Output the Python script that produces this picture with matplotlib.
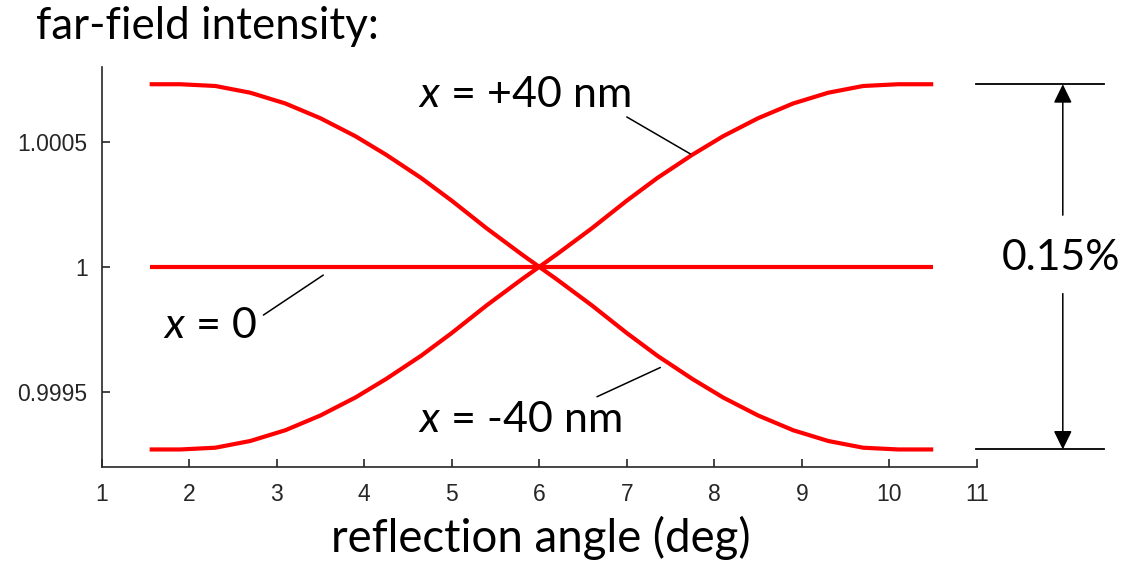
import matplotlib
matplotlib.use("Agg")
import matplotlib.pyplot as plt

plt.rcParams['font.family'] = ['Liberation Sans', 'DejaVu Sans']
plt.rcParams['mathtext.fontset'] = 'custom'
plt.rcParams['mathtext.it'] = 'Lato:italic'
plt.rcParams['mathtext.rm'] = 'Lato'

# reflection angle samples (deg) and normalised far-field intensity
angle = [1.55, 1.9, 2.3, 2.7, 3.1, 3.5, 3.9, 4.25, 4.65, 5.0, 5.4, 5.8, 6.0,
         6.2, 6.6, 7.0, 7.35, 7.75, 8.1, 8.5, 8.9, 9.3, 9.7, 10.1, 10.5]
intensity_minus40 = [1.000731, 1.000731, 1.000724, 1.000697, 1.000654, 1.000595,
                     1.000523, 1.000449, 1.000356, 1.000265, 1.000154, 1.000050,
                     1.000000, 0.999950, 0.999846, 0.999735, 0.999644, 0.999551,
                     0.999477, 0.999405, 0.999346, 0.999303, 0.999276, 0.999269,
                     0.999269]
intensity_plus40 = [0.999269, 0.999269, 0.999276, 0.999303, 0.999346, 0.999405,
                    0.999477, 0.999551, 0.999644, 0.999735, 0.999846, 0.999950,
                    1.000000, 1.000050, 1.000154, 1.000265, 1.000356, 1.000449,
                    1.000523, 1.000595, 1.000654, 1.000697, 1.000724, 1.000731,
                    1.000731]
intensity_zero = [1.0] * len(angle)

x_ticks = [1, 2, 3, 4, 5, 6, 7, 8, 9, 10, 11]
y_ticks = [0.9995, 1.0, 1.0005]
y_tick_labels = ['0.9995', '1', '1.0005']

W, H = 1146, 563
fig = plt.figure(figsize=(W / 100, H / 100), dpi=100)
ax = fig.add_axes([101.5 / W, 1 - 466.7 / H, 875.5 / W, 399.7 / H])

red = '#ff0000'
ax.plot(angle, intensity_minus40, color=red, lw=3, solid_capstyle='butt')
ax.plot(angle, intensity_plus40, color=red, lw=3, solid_capstyle='butt')
ax.plot(angle, intensity_zero, color=red, lw=3, solid_capstyle='butt')

ax.set_xlim(1, 11)
ax.set_ylim(0.9992, 1.0008)
ax.set_xticks(x_ticks)
ax.set_yticks(y_ticks)
ax.set_yticklabels(y_tick_labels)

gray = '#262626'
for side in ['top', 'right']:
    ax.spines[side].set_visible(False)
for side in ['left', 'bottom']:
    ax.spines[side].set_color(gray)
    ax.spines[side].set_linewidth(1.2)
ax.tick_params(direction='in', length=6, width=1.2, color=gray,
               labelcolor=gray, labelsize=16.5)
ax.tick_params(axis='x', pad=12)
ax.tick_params(axis='y', pad=10)

big = 'Lato'
fig.text(36 / W, 1 - 39 / H, 'far-field intensity:', fontsize=31.6,
         family=big, va='baseline', ha='left')
ax.set_xlabel('reflection angle (deg)', fontsize=32.9, family=big)
ax.xaxis.label.set_va('baseline')
ax.xaxis.set_label_coords(0.5018, -0.2127)

# curve labels with leader lines
lbl = dict(fontsize=31, family=big, va='baseline', ha='left')
ax.text(4.62, 1.000640, r'$x$ = +40 nm', **lbl)
ax.text(1.706, 0.999714, r'$x$ = 0', **lbl)
ax.text(4.62, 0.999340, r'$x$ = -40 nm', **lbl)

lead = dict(arrowstyle='-', color='black', lw=1.1, shrinkA=0, shrinkB=0)
ax.annotate('', xy=(7.726, 1.000452), xytext=(7.0, 1.000600), arrowprops=lead)
ax.annotate('', xy=(3.533, 0.999967), xytext=(2.849, 0.999807), arrowprops=lead)
ax.annotate('', xy=(7.383, 0.999597), xytext=(6.659, 0.999480), arrowprops=lead)

# peak-to-peak span marker
top = max(intensity_minus40)
bot = min(intensity_minus40)
ax.plot([10.994, 12.446], [top, top], color='black', lw=1.3, clip_on=False)
ax.plot([10.994, 12.446], [bot, bot], color='black', lw=1.3, clip_on=False)
head = dict(arrowstyle='-|>,head_length=0.82,head_width=0.4', mutation_scale=14,
            color='black', lw=1.1, shrinkA=0, shrinkB=0)
ax.annotate('', xy=(11.98, top), xytext=(11.98, 1.000207), arrowprops=head,
            annotation_clip=False)
ax.annotate('', xy=(11.98, bot), xytext=(11.98, 0.999893), arrowprops=head,
            annotation_clip=False)
ax.text(11.96, 0.999987, '0.15%', fontsize=30.7, family=big, ha='center',
        va='baseline', clip_on=False)

fig.savefig('out.png', dpi=100)
